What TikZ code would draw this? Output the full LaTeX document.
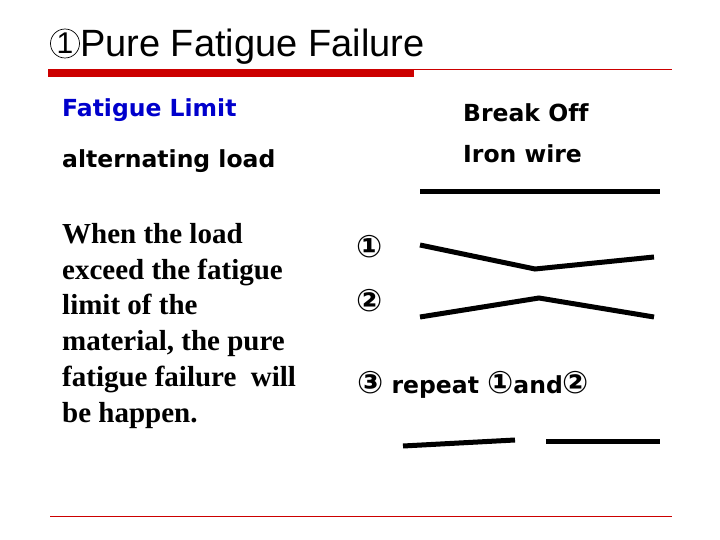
\documentclass[tikz,border=0pt]{standalone}
\usepackage{fontspec}
\setmainfont{Liberation Serif}
\newfontfamily\titlefont{Liberation Sans}
\newfontfamily\boldsans{DejaVu Sans}[Ligatures=NoCommon]
\newcommand\circnum[1]{{\fontsize{31}{31}\selectfont #1}}
\definecolor{barred}{RGB}{204,0,0}
\definecolor{limitblue}{RGB}{0,0,204}
\tikzset{
  lbl/.style={anchor=base west, inner sep=0pt, font=\boldsans\bfseries\fontsize{23.5}{28}\selectfont},
  wire/.style={line width=5pt, black},
  para/.style={anchor=north west, inner sep=0pt, align=left, font=\bfseries\fontsize{29}{35.8}\selectfont}
}
\begin{document}
\begin{tikzpicture}[x=1pt,y=-1pt]
\useasboundingbox (0,0) rectangle (720,540);
\fill[white] (0,0) rectangle (720,540);
% title
\node[circle, draw, line width=0.7pt, minimum size=29pt, inner sep=0pt, font=\titlefont\fontsize{30}{30}\selectfont] (titlenum) at (65,43.5) {1};
\node[anchor=base west, inner sep=0pt, font=\titlefont\fontsize{38}{44}\selectfont] (title) at (80,57) {Pure Fatigue Failure};
% rules
\fill[barred] (48,69) rectangle (414,77);
\draw[barred, line width=0.8pt] (414,69.5) -- (672,69.5);
\draw[barred, line width=0.8pt] (50,516) -- (672,516);
% left texts
\node[lbl, text=limitblue] (flimit) at (62,117) {Fatigue Limit};
\node[lbl] (aload) at (62,168) {alternating load};
\node[para] (desc) at (62,223) {When the load\\exceed the fatigue\\limit of the\\material, the pure\\fatigue failure\ \ will\\be happen.};
% right texts
\node[lbl] (break) at (463,122) {Break Off};
\node[lbl] (iron) at (463,163) {Iron wire};
\node[lbl] (one) at (356,257) {\circnum{①}};
\node[lbl] (two) at (356,311) {\circnum{②}};
\node[lbl] (three) at (357,393) {\circnum{③} repeat \circnum{①}and\circnum{②}};
% wires
\coordinate (w0a) at (420,191.5);
\coordinate (w0b) at (660,191.5);
\draw[wire] (w0a) -- (w0b);
\coordinate (w1a) at (420,245);
\coordinate (w1m) at (535,269);
\coordinate (w1b) at (654,257);
\draw[wire, line join=miter] (w1a) -- (w1m) -- (w1b);
\coordinate (w2a) at (420,317);
\coordinate (w2m) at (539,298);
\coordinate (w2b) at (654,317);
\draw[wire, line join=miter] (w2a) -- (w2m) -- (w2b);
\coordinate (w3a) at (403,446);
\coordinate (w3b) at (515,440);
\draw[wire] (w3a) -- (w3b);
\coordinate (w4a) at (546,441);
\coordinate (w4b) at (660,441);
\draw[wire] (w4a) -- (w4b);
\end{tikzpicture}
\end{document}
